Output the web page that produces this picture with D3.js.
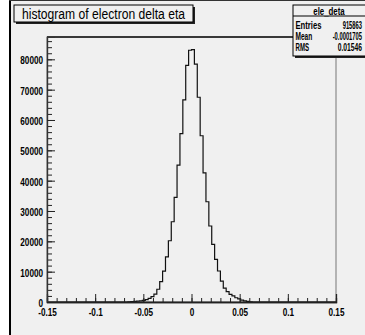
<!DOCTYPE html>
<html><head><meta charset="utf-8">
<script src="https://cdn.jsdelivr.net/npm/d3@7"></script>
<style>
html,body{margin:0;padding:0;background:#fff;}
svg{display:block;}
text{font-family:"Liberation Sans Narrow","Liberation Sans",Arial,sans-serif;fill:#000;}
</style></head>
<body>
<svg id="c" width="365" height="335"></svg>
<script>
// ---- data ----
const title = "histogram of electron delta eta";
const histName = "ele_deta";
const statLabels = ["Entries", "Mean", "RMS"];
const statValues = ["915863", "-0.0001705", "0.01546"];
const xRange = [-0.15, 0.15];
const xTicks = [-0.15, -0.1, -0.05, 0, 0.05, 0.1, 0.15];
const xTickLabels = ["-0.15", "-0.1", "-0.05", "0", "0.05", "0.1", "0.15"];
const yTicks = [0, 10000, 20000, 30000, 40000, 50000, 60000, 70000, 80000];
const yTickLabels = ["0", "10000", "20000", "30000", "40000", "50000", "60000", "70000", "80000"];
// 100 bins over [-0.15, 0.15]
const counts = [
  0,0,0,0,0,0,0,0,0,0,
  0,0,0,0,0,0,0,0,0,0,
  0,0,0,0,0,0,0,0,50,100,
  180,280,400,550,800,1200,1750,2600,4200,6700,
  10200,14900,20200,26450,34500,45150,55500,66600,78000,83000,
  83200,78400,67500,54800,42600,33050,25050,19000,14070,10220,
  6900,4600,3400,2500,2000,1400,1000,650,400,200,
  80,0,0,0,0,0,0,0,0,0,
  0,0,0,0,0,0,0,0,0,0,
  0,0,0,0,0,0,0,0,0,0
];

const svg = d3.select("#c");
const bg = "#f0f0f0";

// canvas
svg.append("rect").attr("x",0).attr("y",0).attr("width",365).attr("height",335).attr("fill","#fff");
svg.append("rect").attr("x",10).attr("y",1).attr("width",355).attr("height",334).attr("fill",bg);
svg.append("line").attr("x1",10).attr("x2",10).attr("y1",0).attr("y2",335).attr("stroke","#000").attr("stroke-width",2);
svg.append("line").attr("x1",9).attr("x2",365).attr("y1",0.5).attr("y2",0.5).attr("stroke","#333").attr("stroke-width",1);

const L = 47, R = 336, T = 37, B = 302;
const ymax = d3.max(counts) * 1.05;
const x = d3.scaleLinear().domain(xRange).range([L, R]);
const y = d3.scaleLinear().domain([0, ymax]).range([B, T]);

// frame
svg.append("rect").attr("x",L).attr("y",T).attr("width",R-L).attr("height",B-T)
  .attr("fill",bg).attr("stroke","#777").attr("stroke-width",1);
svg.append("line").attr("x1",L).attr("x2",R).attr("y1",T).attr("y2",T).attr("stroke","#111").attr("stroke-width",1.5);

// histogram
const n = counts.length;
const bw = (xRange[1]-xRange[0])/n;
const pts = [[xRange[0], 0]];
counts.forEach((c,i)=>pts.push([xRange[0]+i*bw, c]));
pts.push([xRange[1], counts[n-1]]);
pts.push([xRange[1], 0]);
const line = d3.line().x(d=>x(d[0])).y(d=>y(d[1])).curve(d3.curveStepAfter);
svg.append("path").attr("d", line(pts)).attr("fill","none").attr("stroke","#111").attr("stroke-width",1.2);

// x axis
const xMinor = d3.range(-15, 16).map(v=>v/100);
const xa = svg.append("g").attr("transform",`translate(0,${B})`);
xa.call(d3.axisBottom(x).tickValues(xMinor).tickSize(-4).tickFormat(""));
const xb = svg.append("g").attr("transform",`translate(0,${B})`)
  .call(d3.axisBottom(x).tickValues(xTicks).tickSize(-8).tickPadding(6)
    .tickFormat((d,i)=>xTickLabels[i]));
[xa, xb].forEach(g=>{g.select(".domain").attr("stroke","#222").attr("stroke-width",1.3);
  g.selectAll(".tick line").attr("stroke","#222");});
xb.selectAll("text").attr("class","ax").style("font-size","11px").style("font-weight","bold").attr("fill","#000");

// y axis
const yMinor = d3.range(0, 88000, 2000);
const ya = svg.append("g").attr("transform",`translate(${L},0)`);
ya.call(d3.axisLeft(y).tickValues(yMinor).tickSize(-5).tickFormat(""));
const yb = svg.append("g").attr("transform",`translate(${L},0)`)
  .call(d3.axisLeft(y).tickValues(yTicks).tickSize(-8).tickPadding(4)
    .tickFormat((d,i)=>yTickLabels[i]));
[ya, yb].forEach(g=>{g.select(".domain").attr("stroke","#333").attr("stroke-width",1.2);
  g.selectAll(".tick line").attr("stroke","#222");});
yb.selectAll("text").attr("class","ax").style("font-size","11px").style("font-weight","bold").attr("fill","#000").attr("dy","0.4em");

// condense axis labels
const refW = yb.selectAll("text").filter((d)=>d===80000).node().getComputedTextLength();
const axFactor = 22.7 / refW;
svg.selectAll("text.ax").each(function(){
  const w = this.getComputedTextLength();
  d3.select(this).attr("textLength", w*axFactor).attr("lengthAdjust","spacingAndGlyphs");
});

// title box
svg.append("rect").attr("x",16).attr("y",7).attr("width",179).attr("height",17).attr("fill","#222");
svg.append("rect").attr("x",14).attr("y",5).attr("width",179).attr("height",17).attr("fill",bg).attr("stroke","#000").attr("stroke-width",1);
const tt = svg.append("text").attr("x",103.5).attr("y",18.5).attr("text-anchor","middle")
  .style("font-size","14px").text(title);
tt.attr("textLength",163).attr("lengthAdjust","spacingAndGlyphs");

// stats box
svg.append("rect").attr("x",295).attr("y",7).attr("width",80).attr("height",51).attr("fill","#222");
svg.append("rect").attr("x",293).attr("y",5).attr("width",80).attr("height",51).attr("fill",bg).attr("stroke","#000").attr("stroke-width",1);
svg.append("line").attr("x1",293).attr("x2",365).attr("y1",16).attr("y2",16).attr("stroke","#000");
const hn = svg.append("text").attr("x",329).attr("y",14.5).attr("text-anchor","middle")
  .style("font-size","11.5px").style("font-weight","bold").text(histName);
hn.attr("textLength",31.5).attr("lengthAdjust","spacingAndGlyphs");
const rowY = [29, 40, 50.7];
const labelW = [26, 16.7, 13.5];
const valueW = [19.3, 29.3, 24.3];
statLabels.forEach((s,i)=>{
  svg.append("text").attr("x",295.5).attr("y",rowY[i]).style("font-size","11px").style("font-weight","bold")
    .attr("textLength",labelW[i]).attr("lengthAdjust","spacingAndGlyphs").text(s);
  svg.append("text").attr("x",362).attr("y",rowY[i]).attr("text-anchor","end").style("font-size","11px").style("font-weight","bold")
    .attr("textLength",valueW[i]).attr("lengthAdjust","spacingAndGlyphs").text(statValues[i]);
});
</script>
</body></html>
